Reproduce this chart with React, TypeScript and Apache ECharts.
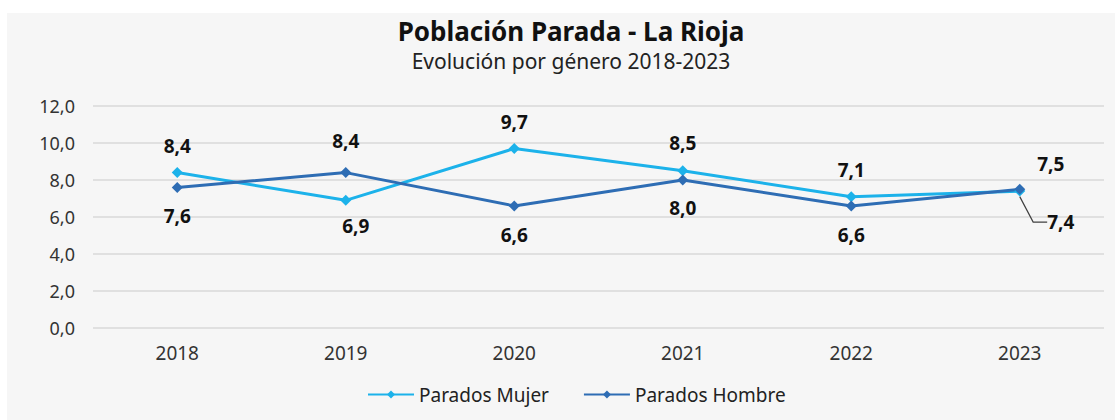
import React, { useEffect, useRef } from "react";
import * as echarts from "echarts";

const categories = ["2018", "2019", "2020", "2021", "2022", "2023"];
const mujer = [8.4, 6.9, 9.7, 8.5, 7.1, 7.4];
const hombre = [7.6, 8.4, 6.6, 8.0, 6.6, 7.5];
const yTicks = { min: 0, max: 12, interval: 2 };

// label placement (style only): offset of label centre from its point
const mujerLabelShift = [[0, -27], [10, 26], [0, -27], [0, -28], [0, -27], [41, 31]];
const hombreLabelShift = [[0, 29], [0, -32], [0, 29], [0, 28], [0, 29], [31, -25]];

const FONT = "'Noto Sans', sans-serif";
const fmt = (v: number) => v.toFixed(1).replace(".", ",");

export default function App() {
  const ref = useRef<HTMLDivElement>(null);
  useEffect(() => {
    if (!ref.current) return;
    const chart = echarts.init(ref.current, null, { renderer: "svg" });
    const mkData = (vals: number[], withLine: number) =>
      vals.map((v, i) =>
        i === withLine
          ? {
              value: v,
              labelLine: { show: true, length2: 14, lineStyle: { color: "#404040", width: 1.2 } },
            }
          : { value: v }
      );
    const labelStyle = {
      show: true,
      position: "inside",
      fontFamily: FONT,
      fontWeight: "bold",
      fontSize: 19,
      color: "#111111",
      formatter: (p: any) => fmt(p.value),
    };
    chart.setOption({
      animation: false,
      backgroundColor: "#ffffff",
      textStyle: { fontFamily: FONT },
      graphic: [
        {
          type: "rect",
          z: -10,
          silent: true,
          shape: { x: 7, y: 13, width: 1108, height: 407 },
          style: { fill: "#f6f6f6" },
        },
      ],
      title: {
        text: "Población Parada - La Rioja",
        subtext: "Evolución por género 2018-2023",
        left: 566,
        textAlign: "center",
        top: 12,
        itemGap: 5,
        textStyle: { fontFamily: FONT, fontWeight: "bold", fontSize: 26, lineHeight: 28, color: "#111111" },
        subtextStyle: { fontFamily: FONT, fontSize: 21, lineHeight: 22, color: "#222222" },
      },
      legend: {
        top: 380,
        left: 362,
        itemWidth: 46,
        itemHeight: 10,
        itemGap: 34,
        textStyle: { fontFamily: FONT, fontSize: 19, color: "#222222" },
        data: ["Parados Mujer", "Parados Hombre"],
      },
      grid: { left: 93, right: 11, top: 106, bottom: 92 },
      xAxis: {
        type: "category",
        data: categories,
        boundaryGap: true,
        axisLine: { show: false },
        axisTick: { show: false },
        axisLabel: { fontFamily: FONT, fontSize: 19, color: "#333333", margin: 15 },
      },
      yAxis: {
        type: "value",
        min: yTicks.min,
        max: yTicks.max,
        interval: yTicks.interval,
        axisLine: { show: false },
        axisTick: { show: false },
        splitLine: { lineStyle: { color: "#d9d9d9", width: 1.5 } },
        axisLabel: {
          fontFamily: FONT,
          fontSize: 18,
          color: "#333333",
          margin: 18,
          formatter: (v: number) => fmt(v),
        },
      },
      series: [
        {
          name: "Parados Mujer",
          type: "line",
          data: mkData(mujer, 5),
          color: "#1cb2ea",
          lineStyle: { width: 3, color: "#1cb2ea" },
          itemStyle: { color: "#1cb2ea" },
          symbol: "diamond",
          symbolSize: 11,
          label: labelStyle,
          labelLayout: (params: any) => {
            const [dx, dy] = mujerLabelShift[params.dataIndex];
            return { dx, dy };
          },
        },
        {
          name: "Parados Hombre",
          type: "line",
          data: mkData(hombre, -1),
          color: "#2e6db4",
          lineStyle: { width: 3, color: "#2e6db4" },
          itemStyle: { color: "#2e6db4" },
          symbol: "diamond",
          symbolSize: 11,
          label: labelStyle,
          labelLayout: (params: any) => {
            const [dx, dy] = hombreLabelShift[params.dataIndex];
            return { dx, dy };
          },
        },
      ],
    });
    return () => chart.dispose();
  }, []);
  return (
    <div
      ref={ref}
      style={{ position: "absolute", left: 0, top: 0, width: 1115, height: 420 }}
    />
  );
}
